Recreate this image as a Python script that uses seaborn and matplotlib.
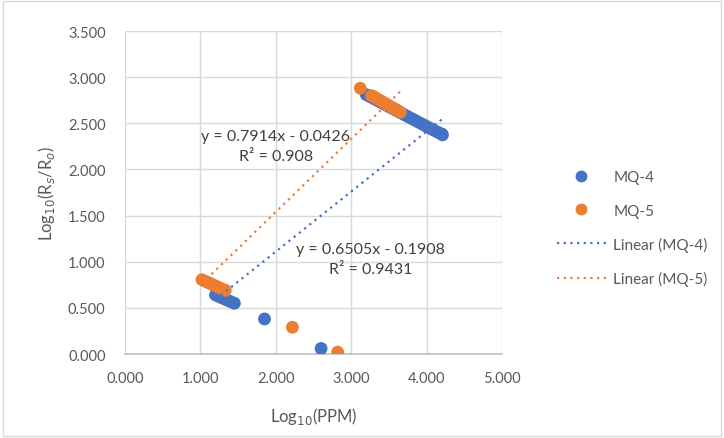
import pandas as pd
import numpy as np
import matplotlib
matplotlib.use("Agg")
import matplotlib.pyplot as plt
import seaborn as sns
from matplotlib.lines import Line2D
from matplotlib.patches import Rectangle

# ---- data ----
mq4_x = [2.60, 1.85,
         1.20, 1.24, 1.28, 1.32, 1.36, 1.40, 1.45,
         3.20, 3.25, 3.30, 3.35, 3.40, 3.45, 3.50, 3.55, 3.60, 3.65, 3.70,
         3.75, 3.80, 3.85, 3.90, 3.95, 4.00, 4.05, 4.10, 4.15, 4.20, 4.21]
mq4_y = [0.06, 0.38,
         0.640, 0.626, 0.611, 0.597, 0.582, 0.568, 0.550,
         2.810, 2.789, 2.767, 2.746, 2.724, 2.703, 2.681, 2.660, 2.638, 2.617, 2.595,
         2.574, 2.552, 2.531, 2.509, 2.488, 2.466, 2.445, 2.423, 2.402, 2.385, 2.375]

mq5_x = [2.82, 2.22,
         1.02, 1.06, 1.10, 1.14, 1.18, 1.22, 1.26, 1.30, 1.33,
         3.12,
         3.27, 3.30, 3.33, 3.36, 3.39, 3.42, 3.45, 3.48, 3.51, 3.54, 3.57, 3.60, 3.63, 3.65]
mq5_y = [0.02, 0.29,
         0.805, 0.790, 0.775, 0.760, 0.745, 0.730, 0.715, 0.700, 0.690,
         2.880,
         2.800, 2.786, 2.772, 2.758, 2.744, 2.730, 2.716, 2.701, 2.687, 2.673, 2.659, 2.645, 2.631, 2.620]

# trendline coefficients as shown on the chart
sensors = ["MQ-4", "MQ-5"]
slopes = [0.6505, 0.7914]
intercepts = [-0.1908, -0.0426]
eq_labels = ["y = 0.6505x - 0.1908\nR² = 0.9431", "y = 0.7914x - 0.0426\nR² = 0.908"]

colors = {"MQ-4": "#4472C4", "MQ-5": "#ED7D31"}

df = pd.concat([
    pd.DataFrame({"ppm": mq4_x, "rs": mq4_y, "sensor": "MQ-4"}),
    pd.DataFrame({"ppm": mq5_x, "rs": mq5_y, "sensor": "MQ-5"}),
], ignore_index=True)

sns.set_style("white")
plt.rcParams["font.family"] = ["Lato", "DejaVu Sans"]
txt = "#595959"

fig = plt.figure(figsize=(7.24, 4.39), dpi=100)
ax = fig.add_axes([0.1727, 0.1913, 0.5207, 0.7357])

sns.scatterplot(data=df, x="ppm", y="rs", hue="sensor", palette=colors,
                s=85, edgecolor="none", ax=ax, legend=False, zorder=3)

# trendlines spanning each series' data range
xs_list = [mq4_x, mq5_x]
for name, m, b, xs in zip(sensors, slopes, intercepts, xs_list):
    lx = np.array([min(xs), max(xs)])
    tl = pd.DataFrame({"x": lx, "y": m * lx + b})
    sns.lineplot(data=tl, x="x", y="y", color=colors[name], lw=1.6,
                 linestyle=(0, (1, 2)), ax=ax, zorder=4)

ax.text(2.0, 2.25, eq_labels[1], ha="center", va="center", fontsize=11.5,
        color="#404040", linespacing=1.55, zorder=5)
ax.text(3.26, 1.03, eq_labels[0], ha="center", va="center", fontsize=11.5,
        color="#404040", linespacing=1.55, zorder=5)

ax.set_xlim(0, 5)
ax.set_ylim(0, 3.5)
ax.set_xticks(np.arange(0, 5.01, 1))
ax.set_yticks(np.arange(0, 3.51, 0.5))
ax.xaxis.set_major_formatter(matplotlib.ticker.FormatStrFormatter("%.3f"))
ax.yaxis.set_major_formatter(matplotlib.ticker.FormatStrFormatter("%.3f"))
ax.grid(True, color="#d9d9d9", lw=1)
ax.set_axisbelow(True)
for s in ["top", "right", "left"]:
    ax.spines[s].set_visible(False)
ax.spines["bottom"].set_color("#bfbfbf")
ax.spines["bottom"].set_linewidth(1.2)
ax.tick_params(axis="y", length=0, labelsize=10.5, colors=txt, pad=14)
ax.tick_params(axis="x", length=0, labelsize=10.5, colors=txt, pad=12)

ax.set_xlabel("Log$_{10}$(PPM)", fontsize=12, color=txt)
ax.set_ylabel("Log$_{10}$(R$_s$/R$_o$)", fontsize=12, color=txt)
ax.xaxis.set_label_coords(0.5, -0.158)
ax.yaxis.set_label_coords(-0.18, 0.5)

handles = [
    Line2D([], [], marker="o", ls="none", color=colors["MQ-4"], markersize=7.5),
    Line2D([], [], marker="o", ls="none", color=colors["MQ-5"], markersize=7.5),
    Line2D([], [], color=colors["MQ-4"], lw=1.6, ls=(0, (1, 2))),
    Line2D([], [], color=colors["MQ-5"], lw=1.6, ls=(0, (1, 2))),
]
labels = ["MQ-4", "MQ-5", "Linear (MQ-4)", "Linear (MQ-5)"]
leg = fig.legend(handles, labels, loc="center left", bbox_to_anchor=(0.75, 0.478),
                 frameon=False, fontsize=11, labelcolor=txt, handlelength=3.2,
                 labelspacing=1.25, handletextpad=0.5)

fig.patches.append(Rectangle((0.004, 0.004), 0.992, 0.992, transform=fig.transFigure,
                             fill=False, edgecolor="#d9d9d9", lw=1))

fig.savefig("out.png", dpi=100)
